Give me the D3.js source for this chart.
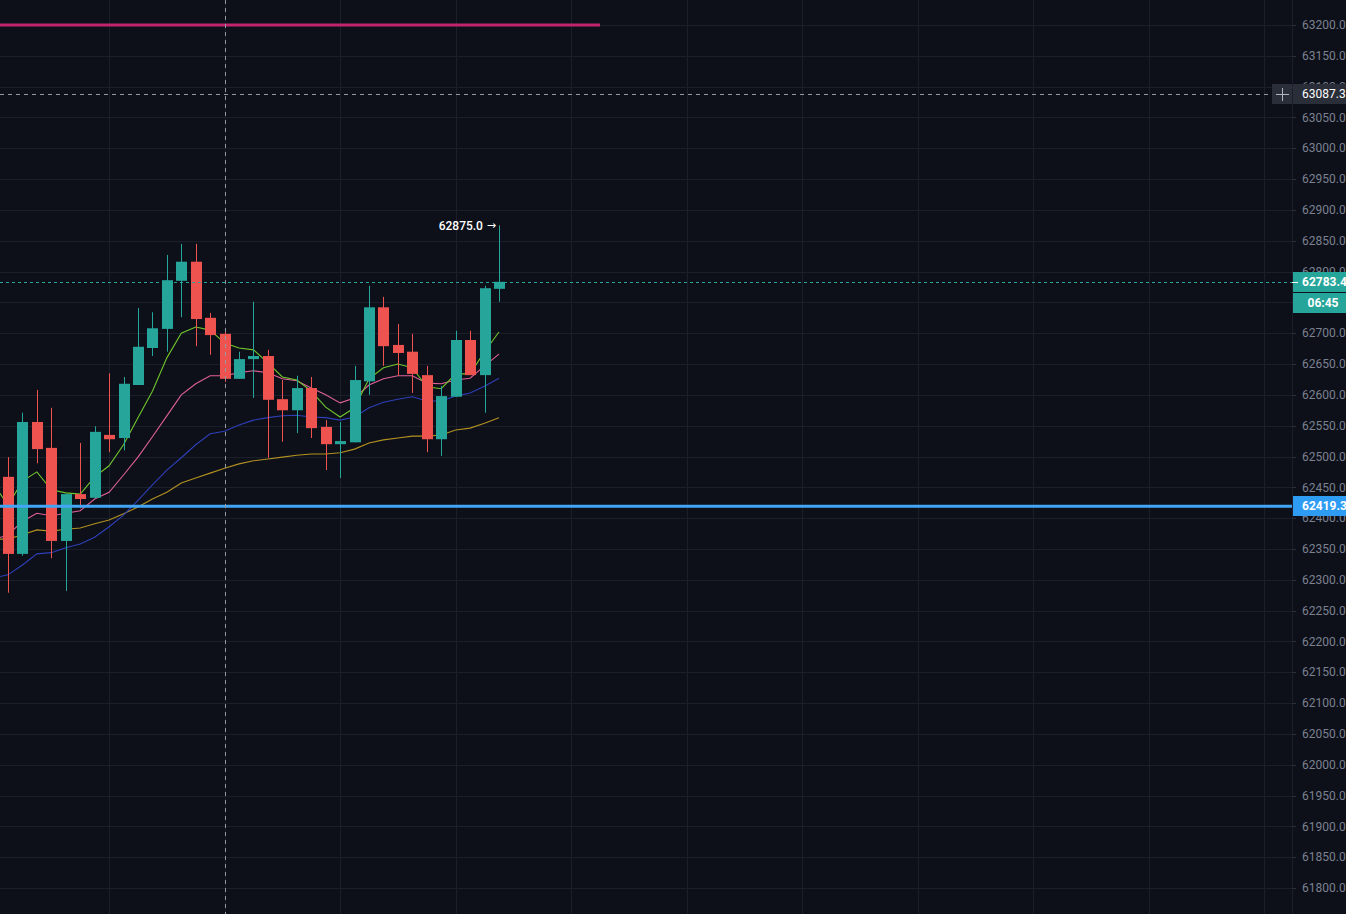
<!DOCTYPE html>
<html>
<head>
<meta charset="utf-8">
<script src="https://cdn.jsdelivr.net/npm/d3@7"></script>
<style>
  body { margin: 0; background: #0d1019; overflow: hidden; }
  svg { display: block; }
  text { font-family: Roboto, "Noto Sans", sans-serif; }
</style>
</head>
<body>
<svg width="1346" height="914"></svg>
<script>
// candles (bar index 0..34)
const opens  = [62467,62342,62556,62514,62363,62439,62433,62535,62530,62616,62676,62707,62785,62816,62725,62699,62626,62658,62663,62593,62575,62611,62548,62520,62523,62622,62742,62681,62670,62632,62528,62597,62689,62632,62772];
const highs  = [62499,62571,62608,62579,62440,62522,62549,62635,62629,62741,62734,62827,62845,62845,62733,62708,62670,62751,62673,62624,62631,62629,62559,62556,62647,62777,62759,62715,62699,62647,62614,62704,62704,62777,62875];
const lows   = [62279,62339,62489,62335,62282,62416,62432,62507,62510,62616,62663,62670,62726,62679,62665,62621,62626,62595,62498,62524,62538,62530,62478,62465,62523,62600,62647,62631,62603,62507,62501,62597,62632,62571,62751];
const closes = [62342,62556,62512,62363,62439,62431,62540,62528,62618,62678,62708,62786,62816,62723,62697,62626,62658,62663,62592,62575,62611,62546,62520,62525,62624,62742,62679,62668,62634,62528,62598,62689,62632,62773,62783.4];

// moving averages, first value belongs to the bar before index 0
const maStart = -1;
const maGreen = [62455,62421,62460,62475,62446,62441,62439,62467,62485,62519,62563,62606,62660,62700,62710,62705,62684,62676,62673,62652,62629,62624,62606,62580,62564,62579,62626,62644,62650,62644,62613,62610,62634,62634,62670,62702];
const maPink  = [62365,62373,62395,62408,62404,62408,62412,62431,62442,62470,62499,62532,62566,62600,62618,62631,62631,62636,62639,62636,62626,62623,62611,62600,62587,62595,62616,62626,62631,62631,62619,62618,62624,62627,62647,62666];
const maBlue  = [62303,62308,62324,62342,62344,62352,62358,62369,62386,62405,62429,62454,62478,62498,62519,62537,62541,62551,62559,62563,62566,62567,62564,62563,62559,62564,62579,62588,62593,62597,62590,62590,62598,62603,62614,62627];
const maGold  = [62366,62366,62373,62381,62379,62382,62384,62391,62397,62407,62418,62431,62442,62457,62465,62473,62481,62488,62493,62496,62499,62502,62504,62504,62506,62512,62522,62527,62530,62533,62533,62535,62543,62546,62554,62563];

// levels
const pinkLevel = 63200, pinkLevelEnd = 41;
const blueLevel = 62419.3;
const crossPrice = 63087.3, crossBar = 15;
const lastPrice = 62783.4;
const countdown = "06:45";
const highLabel = "62875.0";
const yTicks = d3.range(61800, 63201, 50);

const svg = d3.select("svg");
const W = +svg.attr("width"), H = +svg.attr("height");
const plotW = 1292;

const x = d3.scaleLinear().domain([-0.554, 88.92]).range([0, plotW]);
const y = d3.scaleLinear().domain([61800, 63200]).range([888, 25]);
const barW = 11;

svg.append("rect").attr("width", W).attr("height", H).attr("fill", "#0d1019");

const plot = svg.append("g").attr("class", "plot");
plot.append("clipPath").attr("id", "clip")
  .append("rect").attr("width", plotW).attr("height", H);
const g = plot.append("g").attr("clip-path", "url(#clip)");

// grid
g.append("g").selectAll("line").data(yTicks).join("line")
  .attr("x1", 0).attr("x2", plotW)
  .attr("y1", d => Math.round(y(d)) + 0.5).attr("y2", d => Math.round(y(d)) + 0.5)
  .attr("stroke", "#1b1f2b").attr("stroke-width", 1);
g.append("g").selectAll("line").data(d3.range(-1, 89, 8)).join("line")
  .attr("x1", d => Math.round(x(d)) + 0.5).attr("x2", d => Math.round(x(d)) + 0.5)
  .attr("y1", 0).attr("y2", H)
  .attr("stroke", "#1b1f2b").attr("stroke-width", 1);

// axis border
svg.append("line").attr("x1", plotW + 0.5).attr("x2", plotW + 0.5).attr("y1", 0).attr("y2", H)
  .attr("stroke", "#1b1f2b");

// pink level ray
g.append("line")
  .attr("x1", 0).attr("x2", x(pinkLevelEnd))
  .attr("y1", y(pinkLevel)).attr("y2", y(pinkLevel))
  .attr("stroke", "#c2256e").attr("stroke-width", 3);

// moving averages
const maLine = d3.line()
  .x((d, i) => x(i + maStart))
  .y(d => y(d));
[[maGold, "#b39120"], [maBlue, "#2e3fb8"], [maPink, "#e0609a"], [maGreen, "#6fc52c"]].forEach(([data, col]) => {
  g.append("path").datum(data)
    .attr("d", maLine)
    .attr("fill", "none")
    .attr("stroke", col)
    .attr("stroke-width", 1.1);
});

// candles
const bars = d3.range(opens.length).map(i => ({i: i, o: opens[i], h: highs[i], l: lows[i], c: closes[i]}));
const up = "#26a69a", down = "#ef5350";
const cg = g.append("g").attr("class", "candles");
cg.selectAll("line").data(bars).join("line")
  .attr("x1", d => Math.round(x(d.i)) + 0.5).attr("x2", d => Math.round(x(d.i)) + 0.5)
  .attr("y1", d => y(d.h)).attr("y2", d => y(d.l))
  .attr("stroke", d => d.c >= d.o ? up : down);
cg.selectAll("rect").data(bars).join("rect")
  .attr("x", d => Math.round(x(d.i)) - (barW - 1) / 2)
  .attr("width", barW)
  .attr("y", d => y(Math.max(d.o, d.c)))
  .attr("height", d => Math.max(2, Math.abs(y(d.o) - y(d.c))))
  .attr("fill", d => d.c >= d.o ? up : down);

// blue level
g.append("line")
  .attr("x1", 0).attr("x2", plotW)
  .attr("y1", y(blueLevel)).attr("y2", y(blueLevel))
  .attr("stroke", "#42a5f5").attr("stroke-width", 3);

// last price line
g.append("line")
  .attr("x1", 0).attr("x2", plotW)
  .attr("y1", Math.round(y(lastPrice)) + 0.5).attr("y2", Math.round(y(lastPrice)) + 0.5)
  .attr("stroke", up).attr("stroke-width", 1).attr("stroke-dasharray", "3,3");

// high label
const last = bars[bars.length - 1];
g.append("text")
  .attr("x", x(last.i) - 16).attr("y", y(last.h))
  .attr("dy", "0.35em")
  .attr("text-anchor", "end")
  .attr("fill", "#ffffff")
  .attr("font-size", 12)
  .attr("font-weight", 500)
  .text(highLabel);
g.append("text")
  .attr("x", x(last.i) - 3).attr("y", y(last.h))
  .attr("dy", "0.35em")
  .attr("text-anchor", "end")
  .attr("fill", "#ffffff")
  .attr("font-size", 11)
  .style("font-family", "'DejaVu Sans', sans-serif")
  .text("\u2192");

// crosshair
g.append("line")
  .attr("x1", Math.round(x(crossBar)) + 0.5).attr("x2", Math.round(x(crossBar)) + 0.5)
  .attr("y1", 0).attr("y2", H)
  .attr("stroke", "#9598a1").attr("stroke-dasharray", "4,4");
g.append("line")
  .attr("x1", 0).attr("x2", 1272)
  .attr("y1", Math.round(y(crossPrice)) + 0.5).attr("y2", Math.round(y(crossPrice)) + 0.5)
  .attr("stroke", "#9598a1").attr("stroke-dasharray", "4,4");

// price axis
const axis = svg.append("g").attr("class", "y axis");
axis.selectAll("line").data(yTicks).join("line")
  .attr("x1", plotW).attr("x2", plotW + 4)
  .attr("y1", d => Math.round(y(d)) + 0.5).attr("y2", d => Math.round(y(d)) + 0.5)
  .attr("stroke", "#2a2e39");
axis.selectAll("text").data(yTicks).join("text")
  .attr("x", 1302).attr("y", d => y(d))
  .attr("dy", "0.35em")
  .attr("fill", "#7c8190")
  .attr("font-size", 12)
  .text(d => d3.format(".1f")(d));

// axis labels
function axisLabel(price, txt, bg, weight, dyOff, tx, anchor) {
  const yy = Math.round(y(price)) + (dyOff || 0);
  axis.append("rect").attr("x", plotW + 1).attr("y", yy - 10).attr("width", W - plotW).attr("height", 20)
    .attr("fill", bg);
  axis.append("text").attr("x", tx || 1302).attr("y", yy).attr("dy", "0.35em")
    .attr("text-anchor", anchor || "start")
    .attr("fill", "#ffffff").attr("font-size", 12).attr("font-weight", weight)
    .text(txt);
}
axisLabel(crossPrice, crossPrice.toFixed(1), "#2a2e39", "normal");
axisLabel(lastPrice, lastPrice.toFixed(1), "#26a69a", "bold");
axisLabel(lastPrice, countdown, "#26a69a", "bold", 21, 1323, "middle");
axisLabel(blueLevel, blueLevel.toFixed(1), "#2f9cf4", "bold");

// last price tick
axis.append("line")
  .attr("x1", plotW).attr("x2", plotW + 6)
  .attr("y1", Math.round(y(lastPrice)) + 0.5).attr("y2", Math.round(y(lastPrice)) + 0.5)
  .attr("stroke", "#ffffff");

// plus button
const py = Math.round(y(crossPrice));
svg.append("rect").attr("x", 1272).attr("y", py - 10).attr("width", 20).attr("height", 20)
  .attr("fill", "#2a2e39");
svg.append("path")
  .attr("d", `M1276,${py + 0.5}H1289M${1282.5},${py - 6}V${py + 7}`)
  .attr("stroke", "#b2b5be").attr("stroke-width", 1);
</script>
</body>
</html>
